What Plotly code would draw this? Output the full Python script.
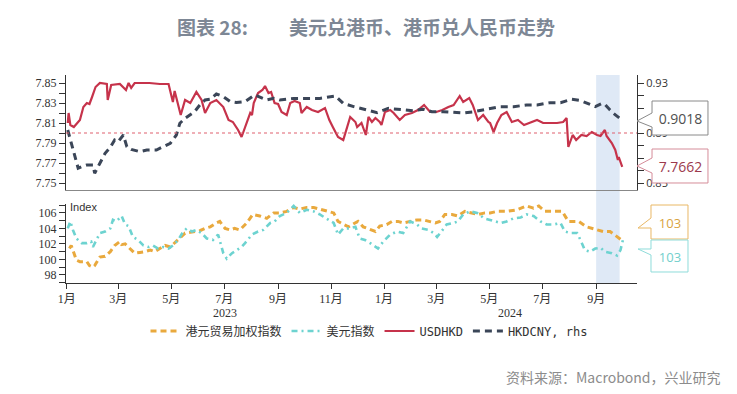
import plotly.graph_objects as go

# ---------------- data ----------------
USDHKD_DATES = ["2023-01-02","2023-01-03","2023-01-05","2023-01-09","2023-01-16","2023-01-20","2023-01-24","2023-01-27","2023-01-30","2023-02-03","2023-02-08","2023-02-16","2023-02-17","2023-02-21","2023-03-03","2023-03-10","2023-03-13","2023-03-16","2023-03-20","2023-04-06","2023-04-18","2023-04-28","2023-05-03","2023-05-05","2023-05-12","2023-05-17","2023-05-23","2023-05-30","2023-06-05","2023-06-09","2023-06-15","2023-06-22","2023-06-30","2023-07-06","2023-07-11","2023-07-17","2023-07-21","2023-07-27","2023-07-31","2023-08-02","2023-08-04","2023-08-09","2023-08-14","2023-08-17","2023-08-21","2023-08-24","2023-08-28","2023-09-01","2023-09-05","2023-09-11","2023-09-15","2023-09-20","2023-09-26","2023-09-28","2023-10-04","2023-10-10","2023-10-17","2023-10-25","2023-10-30","2023-11-03","2023-11-09","2023-11-15","2023-11-20","2023-11-23","2023-11-29","2023-12-01","2023-12-06","2023-12-11","2023-12-14","2023-12-18","2023-12-22","2023-12-27","2023-12-29","2024-01-02","2024-01-08","2024-01-12","2024-01-19","2024-01-25","2024-02-02","2024-02-09","2024-02-16","2024-02-23","2024-03-01","2024-03-08","2024-03-15","2024-03-21","2024-03-28","2024-04-01","2024-04-08","2024-04-12","2024-04-18","2024-04-24","2024-04-30","2024-05-02","2024-05-06","2024-05-10","2024-05-15","2024-05-21","2024-05-27","2024-06-03","2024-06-10","2024-06-17","2024-06-25","2024-07-02","2024-07-10","2024-07-18","2024-07-25","2024-07-29","2024-07-31","2024-08-05","2024-08-09","2024-08-15","2024-08-21","2024-08-27","2024-09-02","2024-09-06","2024-09-11","2024-09-13","2024-09-19","2024-09-23","2024-09-26","2024-09-27","2024-10-01"]
USDHKD = [7.810,7.820,7.808,7.806,7.813,7.826,7.830,7.829,7.836,7.846,7.850,7.849,7.833,7.848,7.849,7.843,7.850,7.845,7.850,7.850,7.849,7.849,7.831,7.842,7.818,7.833,7.830,7.841,7.833,7.820,7.830,7.833,7.826,7.813,7.811,7.803,7.796,7.811,7.820,7.818,7.830,7.840,7.843,7.847,7.840,7.841,7.830,7.829,7.821,7.818,7.830,7.832,7.830,7.820,7.826,7.823,7.821,7.825,7.813,7.806,7.796,7.793,7.806,7.816,7.811,7.806,7.810,7.798,7.816,7.811,7.815,7.811,7.808,7.821,7.823,7.820,7.813,7.818,7.820,7.823,7.828,7.821,7.821,7.823,7.826,7.828,7.837,7.831,7.835,7.828,7.813,7.818,7.811,7.810,7.801,7.810,7.818,7.821,7.811,7.813,7.808,7.810,7.813,7.810,7.810,7.810,7.811,7.815,7.786,7.798,7.793,7.798,7.797,7.801,7.798,7.797,7.803,7.797,7.790,7.783,7.773,7.776,7.7662]

HKDCNY_DATES = ["2023-01-02","2023-01-06","2023-01-10","2023-01-14","2023-01-18","2023-01-24","2023-01-31","2023-02-02","2023-02-08","2023-02-14","2023-02-20","2023-02-25","2023-03-01","2023-03-07","2023-03-11","2023-03-16","2023-03-26","2023-04-03","2023-04-14","2023-04-22","2023-04-30","2023-05-07","2023-05-11","2023-05-17","2023-05-23","2023-05-28","2023-06-03","2023-06-09","2023-06-15","2023-06-22","2023-06-30","2023-07-08","2023-07-15","2023-07-25","2023-08-05","2023-08-19","2023-08-27","2023-09-03","2023-09-19","2023-10-04","2023-10-19","2023-11-06","2023-11-15","2023-11-27","2023-12-10","2023-12-24","2024-01-06","2024-01-19","2024-02-04","2024-02-15","2024-02-25","2024-03-09","2024-03-25","2024-04-01","2024-04-13","2024-04-28","2024-05-14","2024-05-29","2024-06-13","2024-06-25","2024-07-10","2024-07-22","2024-08-04","2024-08-14","2024-08-25","2024-08-31","2024-09-08","2024-09-11","2024-09-17","2024-09-21","2024-09-28"]
HKDCNY = [0.8924,0.8818,0.8710,0.8618,0.8630,0.8644,0.8644,0.8578,0.8658,0.8738,0.8786,0.8844,0.8830,0.8884,0.8791,0.8769,0.8751,0.8764,0.8764,0.8791,0.8818,0.8884,0.8978,0.9018,0.9044,0.9071,0.9124,0.9164,0.9170,0.9212,0.9191,0.9151,0.9144,0.9151,0.9204,0.9164,0.9177,0.9164,0.9177,0.9177,0.9177,0.9196,0.9137,0.9111,0.9090,0.9063,0.9097,0.9090,0.9078,0.9090,0.9071,0.9071,0.9063,0.9060,0.9070,0.9090,0.9111,0.9111,0.9124,0.9124,0.9143,0.9143,0.9170,0.9160,0.9132,0.9111,0.9137,0.9130,0.9084,0.9057,0.9018]

HKTWI_DATES = ["2023-01-04","2023-01-06","2023-01-12","2023-01-16","2023-01-24","2023-01-27","2023-01-31","2023-02-02","2023-02-08","2023-02-14","2023-02-20","2023-02-25","2023-03-03","2023-03-05","2023-03-09","2023-03-15","2023-03-20","2023-03-26","2023-04-01","2023-04-07","2023-04-12","2023-04-18","2023-04-24","2023-04-30","2023-05-05","2023-05-11","2023-05-17","2023-05-23","2023-05-28","2023-06-03","2023-06-09","2023-06-15","2023-06-22","2023-06-26","2023-07-02","2023-07-08","2023-07-13","2023-07-19","2023-07-27","2023-08-03","2023-08-11","2023-08-19","2023-08-27","2023-09-03","2023-09-11","2023-09-19","2023-09-26","2023-10-04","2023-10-12","2023-10-19","2023-10-27","2023-11-04","2023-11-09","2023-11-15","2023-11-21","2023-11-27","2023-12-02","2023-12-08","2023-12-16","2023-12-22","2023-12-27","2024-01-04","2024-01-10","2024-01-17","2024-01-23","2024-01-31","2024-02-08","2024-02-15","2024-02-23","2024-02-29","2024-03-05","2024-03-11","2024-03-19","2024-03-26","2024-04-03","2024-04-11","2024-04-18","2024-04-26","2024-05-02","2024-05-10","2024-05-21","2024-06-02","2024-06-13","2024-06-21","2024-06-27","2024-07-04","2024-07-14","2024-07-24","2024-07-31","2024-08-12","2024-08-21","2024-09-02","2024-09-09","2024-09-17","2024-09-25","2024-09-29"]
HKTWI = [101.4,101.8,99.9,99.7,99.7,99.2,99.0,99.2,100.3,100.4,101.0,101.8,102.3,101.9,102.0,101.4,100.8,100.9,101.0,101.2,101.0,101.4,101.8,101.6,102.1,102.7,103.4,103.5,103.6,103.7,104.0,104.2,104.7,104.9,104.0,103.8,104.0,103.8,104.7,105.8,105.6,105.3,106.0,106.0,106.2,106.7,106.5,106.7,106.7,106.5,106.3,106.0,104.9,104.5,104.2,104.6,104.9,104.2,103.8,103.6,104.3,104.5,104.9,104.9,104.7,104.9,105.1,105.1,104.9,104.7,104.9,105.8,105.8,105.6,106.2,106.0,105.8,106.0,106.0,106.2,106.2,106.4,106.9,106.6,106.9,106.2,106.2,106.2,104.9,104.9,104.2,103.8,103.6,103.6,102.9,102.6]

DXY_DATES = ["2023-01-02","2023-01-05","2023-01-08","2023-01-12","2023-01-18","2023-01-24","2023-01-29","2023-01-31","2023-02-08","2023-02-14","2023-02-20","2023-02-23","2023-02-27","2023-03-05","2023-03-09","2023-03-13","2023-03-18","2023-03-24","2023-03-30","2023-04-05","2023-04-10","2023-04-16","2023-04-22","2023-04-28","2023-05-03","2023-05-09","2023-05-15","2023-05-19","2023-05-25","2023-05-30","2023-06-05","2023-06-11","2023-06-18","2023-06-24","2023-06-30","2023-07-04","2023-07-10","2023-07-15","2023-07-21","2023-07-25","2023-08-02","2023-08-09","2023-08-15","2023-08-23","2023-08-28","2023-09-03","2023-09-11","2023-09-19","2023-09-26","2023-10-04","2023-10-12","2023-10-19","2023-10-27","2023-11-04","2023-11-09","2023-11-15","2023-11-21","2023-11-29","2023-12-04","2023-12-10","2023-12-16","2023-12-22","2023-12-25","2023-12-31","2024-01-08","2024-01-16","2024-01-23","2024-01-31","2024-02-08","2024-02-13","2024-02-21","2024-02-27","2024-03-02","2024-03-07","2024-03-13","2024-03-21","2024-03-26","2024-04-01","2024-04-09","2024-04-17","2024-04-25","2024-05-02","2024-05-14","2024-05-21","2024-05-29","2024-06-06","2024-06-13","2024-06-21","2024-06-29","2024-07-06","2024-07-14","2024-07-22","2024-07-27","2024-08-02","2024-08-10","2024-08-14","2024-08-19","2024-08-25","2024-08-31","2024-09-06","2024-09-11","2024-09-19","2024-09-25","2024-09-29","2024-10-02"]
DXY = [104.0,104.9,103.8,102.7,102.1,102.1,102.3,101.6,103.4,103.6,104.0,105.1,104.9,105.6,104.5,104.3,102.9,102.5,101.8,101.6,101.8,101.4,101.6,101.4,101.8,102.5,103.6,104.0,103.6,103.8,103.4,102.7,102.5,103.2,100.8,100.1,100.8,101.2,101.6,102.1,103.2,103.6,103.8,104.7,104.9,105.6,106.0,106.9,106.0,106.4,106.2,105.8,105.3,104.7,103.2,104.0,104.0,104.2,102.7,102.5,102.1,101.6,101.4,102.3,103.2,103.6,103.4,104.9,104.5,104.0,103.8,103.4,102.9,103.6,104.5,104.7,104.9,105.8,106.2,106.0,105.3,105.1,104.7,104.9,105.3,105.4,105.8,105.6,104.9,104.5,104.5,104.7,103.6,103.4,103.4,102.5,101.2,101.0,101.4,101.5,101.0,100.8,100.5,101.2,102.6]

MONTH_TICKS = ["2023-01-01","2023-03-01","2023-05-01","2023-07-01","2023-09-01","2023-11-01",
               "2024-01-01","2024-03-01","2024-05-01","2024-07-01","2024-09-01"]
MONTH_LABELS = ["1月","3月","5月","7月","9月","11月","1月","3月","5月","7月","9月"]
YEAR_LABELS = ["2023","2024"]
YEAR_CENTERS = ["2023-07-02","2024-05-25"]
PEG_MID = 7.80
SHADE_SPAN = ["2024-09-01","2024-09-28"]
X_RANGE = ["2022-12-31","2024-10-18"]

NAMES = ["港元贸易加权指数","美元指数","USDHKD","HKDCNY, rhs"]

# ---------------- styling ----------------
C_ORANGE = "#e9a93d"
C_TEAL = "#6dd3d0"
C_RED = "#c6334b"
C_NAVY = "#3b4658"
SERIF = "Liberation Serif, Noto Sans CJK SC"
SANS = "Open Sans, Noto Sans CJK SC"
LEGFONT = "DejaVu Sans Mono, Noto Sans CJK SC"

# page offset (the browser places the figure 8px in from the corner)
OFF = 8
W, H = 721, 378
ML, MR, MT, MB = 58, 92, 67, 103
PW = W - ML - MR
PH = H - MT - MB


def px(xp):
    """screen pixel x -> paper x"""
    return (xp - OFF - ML) / PW


def py(yp):
    """screen pixel y -> paper y"""
    return (H - MB - (yp - OFF)) / PH


fig = go.Figure()

fig.add_trace(go.Scatter(x=HKTWI_DATES, y=HKTWI, name=NAMES[0], mode="lines",
                         line=dict(color=C_ORANGE, width=3, dash="6px,4px"),
                         xaxis="x2", yaxis="y3"))
fig.add_trace(go.Scatter(x=DXY_DATES, y=DXY, name=NAMES[1], mode="lines",
                         line=dict(color=C_TEAL, width=2.6, dash="6px,4px,2px,4px"),
                         xaxis="x2", yaxis="y3"))
fig.add_trace(go.Scatter(x=USDHKD_DATES, y=USDHKD, name=NAMES[2], mode="lines",
                         line=dict(color=C_RED, width=2.2),
                         xaxis="x", yaxis="y"))
fig.add_trace(go.Scatter(x=HKDCNY_DATES, y=HKDCNY, name=NAMES[3], mode="lines",
                         line=dict(color=C_NAVY, width=3, dash="7px,5px"),
                         xaxis="x", yaxis="y2"))

axis_common = dict(showgrid=False, zeroline=False, showline=True, linecolor="#333",
                   linewidth=1, ticks="outside", tickcolor="#333", ticklen=6)

top_dom = [py(190), 1.0]
bot_dom = [0.0, py(204)]

fig.update_layout(
    width=W, height=H,
    margin=dict(l=ML, r=MR, t=MT, b=MB),
    paper_bgcolor="white", plot_bgcolor="rgba(0,0,0,0)",
    showlegend=True,
    legend=dict(orientation="h", x=px(369), xanchor="center", y=py(331), yanchor="middle",
                font=dict(family=LEGFONT, size=12, color="#333"),
                bgcolor="rgba(0,0,0,0)", itemwidth=30, tracegroupgap=0),
    xaxis=dict(domain=[0, 1], anchor="y", range=X_RANGE, type="date",
               showticklabels=False, showgrid=False, zeroline=False,
               showline=True, linecolor="#888", linewidth=1.2, ticks="", matches="x2"),
    yaxis=dict(domain=top_dom, anchor="x", range=[7.743, 7.858], tick0=7.75, dtick=0.02,
               tickformat=".2f", tickfont=dict(family=SERIF, size=12, color="#333"),
               minor=dict(dtick=0.01, ticks="outside", ticklen=6, tickcolor="#333", showgrid=False),
               **axis_common),
    yaxis2=dict(overlaying="y", side="right", anchor="x", range=[0.8444, 0.9364],
                tick0=0.85, dtick=0.04, tickformat=".2f",
                tickfont=dict(family=SANS, size=11, color="#333"),
                minor=dict(dtick=0.01, ticks="outside", ticklen=6, tickcolor="#333", showgrid=False),
                **axis_common),
    xaxis2=dict(domain=[0, 1], anchor="y3", range=X_RANGE, type="date",
                tickmode="array", tickvals=MONTH_TICKS, ticktext=MONTH_LABELS,
                tickfont=dict(family=SERIF, size=12, color="#333"),
                showgrid=False, zeroline=False, showline=True, linecolor="#333",
                linewidth=1, ticks="outside", tickcolor="#333", ticklen=5),
    yaxis3=dict(domain=bot_dom, anchor="x2", range=[96.95, 107.15], tick0=98, dtick=2,
                tickfont=dict(family=SERIF, size=12, color="#333"),
                minor=dict(dtick=1, ticks="outside", ticklen=6, tickcolor="#333", showgrid=False),
                **axis_common),
)

shapes = []
# highlighted period
shapes.append(dict(type="rect", xref="x", yref="paper", x0=SHADE_SPAN[0], x1=SHADE_SPAN[1],
                   y0=0, y1=1, fillcolor="#dfe9f6", line=dict(width=0), layer="below"))
# 7.80 reference line
shapes.append(dict(type="line", xref="x domain", yref="y", x0=0, x1=1, y0=PEG_MID, y1=PEG_MID,
                   line=dict(color="#e0606f", width=1.2, dash="dot"), layer="above"))


def callout(pts, border):
    d = "M " + " L ".join(f"{px(a):.4f},{py(b):.4f}" for a, b in pts) + " Z"
    return dict(type="path", xref="paper", yref="paper", path=d,
                fillcolor="white", line=dict(color=border, width=1), layer="above")


# callout boxes: (left, top, right, bottom) in screen px
BOX_CNY = (652, 101, 708, 135)
BOX_HKD = (652, 149, 708, 183)
BOX_TWI = (651, 205, 688, 239)
BOX_DXY = (651, 240, 688, 272)

shapes.append(callout([(652, 101), (708, 101), (708, 135), (652, 135), (652, 127),
                       (637, 121), (652, 113)], "#8a8a8a"))
shapes.append(callout([(652, 149), (708, 149), (708, 183), (652, 183), (652, 173),
                       (637, 166), (652, 158)], "#d58c99"))
shapes.append(callout([(651, 205), (688, 205), (688, 239), (651, 239), (651, 228),
                       (638, 228), (651, 218)], "#e9b865"))
shapes.append(callout([(651, 240), (688, 240), (688, 272), (651, 272), (651, 255),
                       (638, 249), (651, 249)], "#8fdcda"))

fig.update_layout(shapes=shapes)


def box_label(box, text, size, color):
    l, t, r, b = box
    return dict(xref="paper", yref="paper", x=px((l + r) / 2), y=py((t + b) / 2),
                xanchor="center", yanchor="middle", text=text, showarrow=False,
                width=(r - l) - 3, height=(b - t) - 3, borderpad=0, borderwidth=0,
                bgcolor="white", align="center",
                font=dict(family=SANS, size=size, color=color))


ann = []
ann.append(box_label(BOX_CNY, f"{HKDCNY[-1]:.4f}", 14, "#505050"))
ann.append(box_label(BOX_HKD, f"{USDHKD[-1]:.4f}", 14, "#9c3a4d"))
ann.append(box_label(BOX_TWI, f"{HKTWI[-1]:.0f}", 13, "#d9a441"))
ann.append(box_label(BOX_DXY, f"{DXY[-1]:.0f}", 13, "#72cfcc"))
# Index label
ann.append(dict(xref="paper", yref="paper", x=px(68), y=py(207), xanchor="left", yanchor="middle",
                text="Index", showarrow=False,
                font=dict(family="Liberation Sans", size=11, color="#333")))
# year labels
for lab, c in zip(YEAR_LABELS, YEAR_CENTERS):
    ann.append(dict(xref="x2", yref="paper", x=c, y=py(313), text=lab, showarrow=False,
                    yanchor="middle", font=dict(family=SERIF, size=12, color="#333")))
# title
ann.append(dict(xref="paper", yref="paper", x=px(175), y=py(27), xanchor="left", yanchor="middle",
                text="<b>图表 28:</b>", showarrow=False,
                font=dict(family="Noto Sans CJK SC", size=19, color="#7d8795")))
ann.append(dict(xref="paper", yref="paper", x=px(287), y=py(27), xanchor="left", yanchor="middle",
                text="<b>美元兑港币、港币兑人民币走势</b>", showarrow=False,
                font=dict(family="Noto Sans CJK SC", size=19, color="#7d8795")))
# source
ann.append(dict(xref="paper", yref="paper", x=px(723), y=py(377), xanchor="right", yanchor="middle",
                text="资料来源：Macrobond，兴业研究", showarrow=False,
                font=dict(family="Noto Sans CJK SC", size=14, color="#8c8c8c")))
fig.update_layout(annotations=ann)

fig.write_html("out.html")
